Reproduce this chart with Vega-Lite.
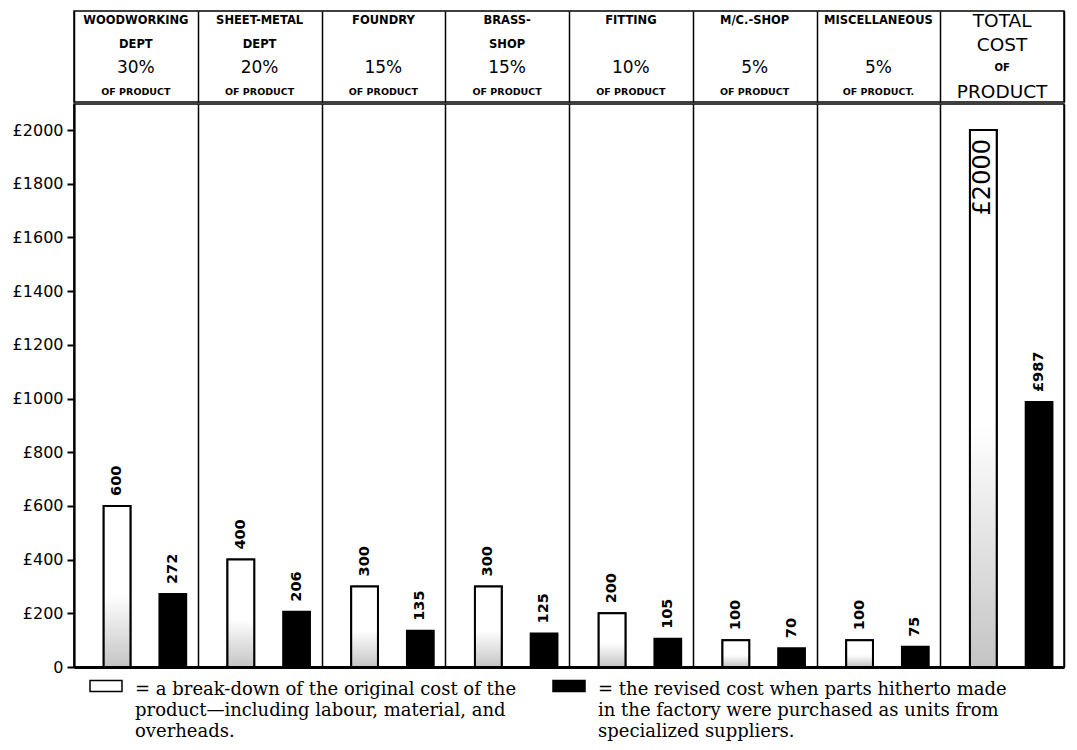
{
  "$schema": "https://vega.github.io/schema/vega-lite/v6.json",
  "background": "white",
  "padding": {"left": 11, "top": 10, "right": 14, "bottom": 5},
  "spacing": 0,
  "config": {
    "view": {"stroke": "black", "strokeWidth": 1.5},
    "axis": {"domainColor": "black", "tickColor": "black", "labelColor": "black", "gridColor": "black"}
  },
  "datasets": {
    "costs": [
      {"dept": "Woodworking", "type": "original", "value": 600, "label": "600"},
      {"dept": "Woodworking", "type": "revised", "value": 272, "label": "272"},
      {"dept": "Sheet-metal", "type": "original", "value": 400, "label": "400"},
      {"dept": "Sheet-metal", "type": "revised", "value": 206, "label": "206"},
      {"dept": "Foundry", "type": "original", "value": 300, "label": "300"},
      {"dept": "Foundry", "type": "revised", "value": 135, "label": "135"},
      {"dept": "Brass-shop", "type": "original", "value": 300, "label": "300"},
      {"dept": "Brass-shop", "type": "revised", "value": 125, "label": "125"},
      {"dept": "Fitting", "type": "original", "value": 200, "label": "200"},
      {"dept": "Fitting", "type": "revised", "value": 105, "label": "105"},
      {"dept": "M/C-Shop", "type": "original", "value": 100, "label": "100"},
      {"dept": "M/C-Shop", "type": "revised", "value": 70, "label": "70"},
      {"dept": "Miscellaneous", "type": "original", "value": 100, "label": "100"},
      {"dept": "Miscellaneous", "type": "revised", "value": 75, "label": "75"},
      {"dept": "Total", "type": "original", "value": 2000, "label": "£2000"},
      {"dept": "Total", "type": "revised", "value": 987, "label": "£987"}
    ],
    "header": [
      {"dept": "Woodworking", "line": 1, "text": "WOODWORKING", "kind": "name"},
      {"dept": "Woodworking", "line": 2, "text": "DEPT", "kind": "name"},
      {"dept": "Woodworking", "line": 3, "text": "30%", "kind": "pct"},
      {"dept": "Woodworking", "line": 4, "text": "OF PRODUCT", "kind": "sub"},
      {"dept": "Sheet-metal", "line": 1, "text": "SHEET-METAL", "kind": "name"},
      {"dept": "Sheet-metal", "line": 2, "text": "DEPT", "kind": "name"},
      {"dept": "Sheet-metal", "line": 3, "text": "20%", "kind": "pct"},
      {"dept": "Sheet-metal", "line": 4, "text": "OF PRODUCT", "kind": "sub"},
      {"dept": "Foundry", "line": 1, "text": "FOUNDRY", "kind": "name"},
      {"dept": "Foundry", "line": 3, "text": "15%", "kind": "pct"},
      {"dept": "Foundry", "line": 4, "text": "OF PRODUCT", "kind": "sub"},
      {"dept": "Brass-shop", "line": 1, "text": "BRASS-", "kind": "name"},
      {"dept": "Brass-shop", "line": 2, "text": "SHOP", "kind": "name"},
      {"dept": "Brass-shop", "line": 3, "text": "15%", "kind": "pct"},
      {"dept": "Brass-shop", "line": 4, "text": "OF PRODUCT", "kind": "sub"},
      {"dept": "Fitting", "line": 1, "text": "FITTING", "kind": "name"},
      {"dept": "Fitting", "line": 3, "text": "10%", "kind": "pct"},
      {"dept": "Fitting", "line": 4, "text": "OF PRODUCT", "kind": "sub"},
      {"dept": "M/C-Shop", "line": 1, "text": "M/C.-SHOP", "kind": "name"},
      {"dept": "M/C-Shop", "line": 3, "text": "5%", "kind": "pct"},
      {"dept": "M/C-Shop", "line": 4, "text": "OF PRODUCT", "kind": "sub"},
      {"dept": "Miscellaneous", "line": 1, "text": "MISCELLANEOUS", "kind": "name"},
      {"dept": "Miscellaneous", "line": 3, "text": "5%", "kind": "pct"},
      {"dept": "Miscellaneous", "line": 4, "text": "OF PRODUCT.", "kind": "sub"},
      {"dept": "Total", "line": 1, "text": "TOTAL", "kind": "big"},
      {"dept": "Total", "line": 2, "text": "COST", "kind": "big"},
      {"dept": "Total", "line": 3, "text": "OF", "kind": "small"},
      {"dept": "Total", "line": 4, "text": "PRODUCT", "kind": "big"}
    ]
  },
  "vconcat": [
    {
      "width": 990,
      "height": 91,
      "data": {"name": "header"},
      "encoding": {
        "x": {
          "field": "dept", "type": "nominal",
          "sort": ["Woodworking", "Sheet-metal", "Foundry", "Brass-shop", "Fitting", "M/C-Shop", "Miscellaneous", "Total"],
          "scale": {"paddingInner": 0, "paddingOuter": 0},
          "axis": {"orient": "top", "tickBand": "extent", "grid": true, "gridWidth": 1.5, "gridOpacity": 1, "labels": false, "ticks": false, "domain": false, "title": null}
        },
        "y": {"field": "line", "type": "ordinal", "scale": {"type": "point", "padding": 0.4, "domain": [1, 2, 3, 4]}, "axis": null},
        "text": {"field": "text"}
      },
      "layer": [
        {"transform": [{"filter": "datum.kind == 'name'"}], "mark": {"type": "text", "font": "DejaVu Sans", "fontWeight": "bold", "fontSize": 11.5, "color": "black"}},
        {"transform": [{"filter": "datum.kind == 'pct'"}], "mark": {"type": "text", "font": "DejaVu Sans", "fontSize": 17, "color": "black"}},
        {"transform": [{"filter": "datum.kind == 'sub'"}], "mark": {"type": "text", "font": "DejaVu Sans", "fontWeight": "bold", "fontSize": 9.5, "color": "black"}},
        {"transform": [{"filter": "datum.kind == 'big'"}], "mark": {"type": "text", "font": "DejaVu Sans", "fontSize": 18.5, "color": "black"}},
        {"transform": [{"filter": "datum.kind == 'small'"}], "mark": {"type": "text", "font": "DejaVu Sans", "fontWeight": "bold", "fontSize": 10, "color": "black"}}
      ]
    },
    {
      "width": 990,
      "height": 563,
      "data": {"name": "costs"},
      "encoding": {
        "x": {
          "field": "dept", "type": "nominal",
          "sort": ["Woodworking", "Sheet-metal", "Foundry", "Brass-shop", "Fitting", "M/C-Shop", "Miscellaneous", "Total"],
          "scale": {"paddingInner": 0, "paddingOuter": 0},
          "axis": {"orient": "bottom", "tickBand": "extent", "grid": true, "gridWidth": 1.5, "gridOpacity": 1, "labels": false, "ticks": false, "domain": true, "domainWidth": 3, "title": null}
        },
        "xOffset": {
          "field": "type", "type": "nominal",
          "scale": {"domain": ["original", "revised"], "paddingInner": 0.52, "paddingOuter": 0.37, "align": 0.72}
        },
        "y": {
          "field": "value", "type": "quantitative",
          "scale": {"domain": [0, 2097], "nice": false},
          "axis": {
            "values": [0, 200, 400, 600, 800, 1000, 1200, 1400, 1600, 1800, 2000],
            "labelExpr": "datum.value == 0 ? '0' : '£' + datum.value",
            "labelFont": "DejaVu Sans", "labelFontSize": 16, "labelPadding": 4,
            "tickSize": 7, "tickWidth": 2, "domainWidth": 2, "grid": false, "title": null
          }
        }
      },
      "layer": [
        {
          "mark": {"type": "bar", "stroke": "black", "strokeWidth": 2},
          "encoding": {
            "fill": {
              "field": "type", "type": "nominal",
              "scale": {"domain": ["original", "revised"], "range": ["white", "black"]},
              "legend": {
                "orient": "bottom", "direction": "horizontal", "title": null, "offset": -22, "padding": 15,
                "labelExpr": "datum.value == 'original' ? ['= a break-down of the original cost of the', '\u00a0\u00a0\u00a0product—including labour, material, and', '\u00a0\u00a0\u00a0overheads.'] : ['= the revised cost when parts hitherto made', '\u00a0\u00a0\u00a0in the factory were purchased as units from', '\u00a0\u00a0\u00a0specialized suppliers.']",
                "labelFont": "DejaVu Serif", "labelFontSize": 18, "labelColor": "black", "labelLimit": 700, "labelBaseline": "top", "labelOffset": 12,
                "symbolType": "M-1,-0.35H1V0.35H-1Z", "symbolSize": 1024, "symbolStrokeColor": "black", "symbolStrokeWidth": 1.5,
                "columnPadding": 33,
                "encode": {"labels": {"update": {"lineHeight": {"value": 21}, "dy": {"value": -5}}}}
              }
            }
          }
        },
        {
          "transform": [{"filter": "datum.type == 'original'"}],
          "mark": {
            "type": "bar", "stroke": "black", "strokeWidth": 2,
            "color": {"gradient": "linear", "x1": 0, "y1": 1, "x2": 0, "y2": 0, "stops": [{"offset": 0, "color": "#c4c4c4"}, {"offset": 0.45, "color": "white"}, {"offset": 1, "color": "white"}]}
          }
        },
        {
          "transform": [{"filter": "datum.dept != 'Total' || datum.type != 'original'"}],
          "mark": {"type": "text", "angle": 270, "align": "left", "baseline": "middle", "dx": 10, "font": "DejaVu Sans", "fontWeight": "bold", "fontSize": 14.5, "color": "black"},
          "encoding": {"text": {"field": "label"}}
        },
        {
          "transform": [{"filter": "datum.dept == 'Total' && datum.type == 'original'"}],
          "mark": {"type": "text", "angle": 270, "align": "right", "baseline": "middle", "dx": -9, "font": "DejaVu Sans", "fontSize": 24, "color": "black"},
          "encoding": {"text": {"field": "label"}}
        }
      ]
    }
  ]
}
